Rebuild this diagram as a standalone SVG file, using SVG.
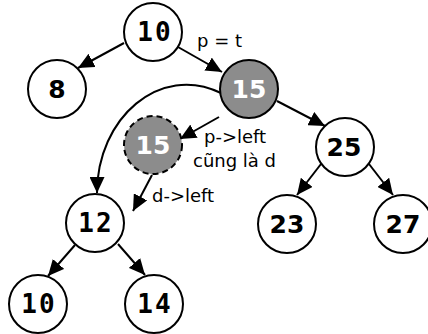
<svg xmlns="http://www.w3.org/2000/svg" width="428" height="334" viewBox="0 0 428 334">
<style>
.n{fill:#fff;stroke:#000;stroke-width:2}
.g{fill:#8c8c8c;stroke:#000;stroke-width:2}
.d{fill:#8c8c8c;stroke:#000;stroke-width:2;stroke-dasharray:6,4}
.e{fill:none;stroke:#000;stroke-width:2;marker-end:url(#ah)}
.t{font-family:"DejaVu Sans Mono",monospace;font-weight:bold;font-size:26px;text-anchor:middle}
.s{font-family:"DejaVu Sans",Verdana,sans-serif;font-weight:bold;font-size:25px;text-anchor:middle}
.w{fill:#fff}
.l{font-family:"DejaVu Sans",Verdana,sans-serif;font-size:18px;fill:#000}
</style>
<defs>
<marker id="ah" markerUnits="userSpaceOnUse" markerWidth="17" markerHeight="15" refX="16" refY="7.5" orient="auto">
<path d="M0,0 L16,7.5 L0,15 Z" fill="#000"/>
</marker>
</defs>
<g id="connectors">
<line class="e" x1="124" y1="43" x2="78" y2="68"/>
<line class="e" x1="178" y1="47" x2="222" y2="72"/>
<line class="e" x1="277" y1="101" x2="325" y2="126"/>
<line class="e" x1="321" y1="164" x2="297" y2="195"/>
<line class="e" x1="369" y1="164" x2="393" y2="195"/>
<line class="e" x1="219" y1="117" x2="180" y2="139"/>
<path class="e" d="M221,93 C160,63 97,118 97,193"/>
<line class="e" x1="152" y1="175" x2="133" y2="211"/>
<line class="e" x1="75" y1="245" x2="48" y2="276"/>
<line class="e" x1="118" y1="244" x2="145" y2="275"/>
</g>
<g id="node-10"><circle class="n" cx="153" cy="32" r="29"/><text class="t" x="155" y="41" letter-spacing="2">10</text></g>
<g id="node-8"><circle class="n" cx="57" cy="89" r="29"/><text class="s" x="57" y="98">8</text></g>
<g id="node-15"><circle class="g" cx="249" cy="89" r="29"/><text class="s w" x="249" y="98">15</text></g>
<g id="node-15d"><circle class="d" cx="153" cy="145" r="29"/><text class="s w" x="153" y="154">15</text></g>
<g id="node-25"><circle class="n" cx="345" cy="147" r="29"/><text class="s" x="344" y="156">25</text></g>
<g id="node-23"><circle class="n" cx="287" cy="224" r="29"/><text class="s" x="287" y="233">23</text></g>
<g id="node-27"><circle class="n" cx="403" cy="224" r="29"/><text class="s" x="403" y="233">27</text></g>
<g id="node-12"><circle class="n" cx="95" cy="223" r="29"/><text class="t" x="96" y="232" letter-spacing="2">12</text></g>
<g id="node-10b"><circle class="n" cx="38" cy="304" r="29"/><text class="t" x="39" y="313" letter-spacing="2">10</text></g>
<g id="node-14"><circle class="n" cx="154" cy="304" r="29"/><text class="t" x="155" y="313" letter-spacing="2">14</text></g>
<g id="labels">
<text class="l" x="197" y="47">p = t</text>
<text class="l" x="204" y="143">p-&gt;left</text>
<text class="l" x="193" y="167">cũng là d</text>
<text class="l" x="152" y="202">d-&gt;left</text>
</g>
</svg>
